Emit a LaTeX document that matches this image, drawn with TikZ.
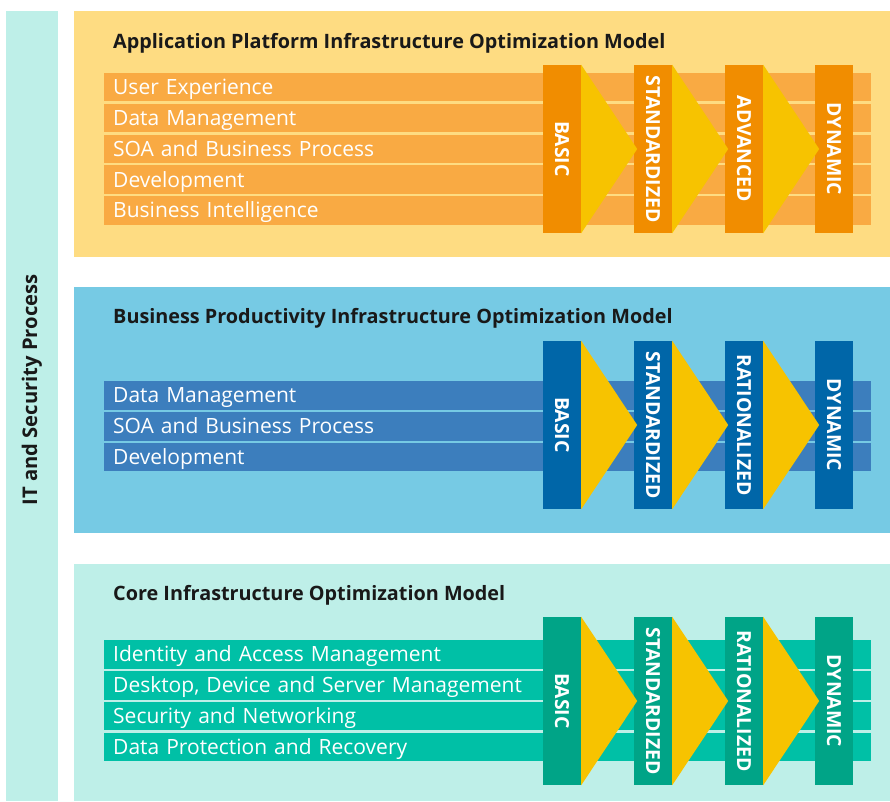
\documentclass[tikz,border=0pt]{standalone}
\usepackage{fontspec}
\setmainfont{Open Sans}
\usepackage{xcolor}

\definecolor{sidebg}{HTML}{BEEFE8}
\definecolor{appbg}{HTML}{FEDC82}
\definecolor{approw}{HTML}{F9AA43}
\definecolor{appstage}{HTML}{F18D00}
\definecolor{prodbg}{HTML}{76CAE4}
\definecolor{prodrow}{HTML}{3C7EBD}
\definecolor{prodstage}{HTML}{0066A8}
\definecolor{corebg}{HTML}{BEEFE8}
\definecolor{corerow}{HTML}{00C0A6}
\definecolor{corestage}{HTML}{00A487}
\definecolor{arrowfill}{HTML}{F7C300}

\begin{document}
\begin{tikzpicture}[x=1pt,y=-1pt,
  titletext/.style={anchor=base west,inner sep=0pt,text=black!90,
    font=\fontsize{19.8}{23}\selectfont\bfseries},
  rowbox/.style={anchor=north west,minimum height=28.5pt,inner xsep=9pt,inner ysep=0pt,
    text width=749pt,align=left,text=white,text height=15pt,text depth=0pt,
    font=\fontsize{21}{25}\selectfont},
  stagebox/.style={rotate=-90,minimum width=168pt,minimum height=38pt,inner sep=0pt,
    text=white,text height=13.8pt,text depth=0pt,font=\fontsize{19.4}{22}\selectfont\bfseries},
  stagearrow/.style={fill=arrowfill}]
  % page and panels
  \fill[white] (0,0) rectangle (890,801);
  \fill[sidebg] (6,11) rectangle (58,801);
  \node (side) at (32,390) [rotate=90,inner sep=0pt,text=black!90,
    font=\fontsize{20.2}{23}\selectfont\bfseries] {IT and Security Process};

  % application platform
  \fill[appbg] (74,11) rectangle (890,257);
  \node (apptitle) at (113,48) [titletext] {Application Platform Infrastructure Optimization Model};
  \node (ux) at (104,72.7) [rowbox,fill=approw] {User Experience};
  \node (dm) at (104,103.5) [rowbox,fill=approw] {Data Management};
  \node (soa) at (104,134.3) [rowbox,fill=approw] {SOA and Business Process};
  \node (dev) at (104,165.1) [rowbox,fill=approw] {Development};
  \node (bi) at (104,195.9) [rowbox,fill=approw] {Business Intelligence};
  \node (ab) at (562,149) [stagebox,fill=appstage] {BASIC};
  \node (as) at (653,149) [stagebox,fill=appstage] {STANDARDIZED};
  \node (aa) at (744,149) [stagebox,fill=appstage] {ADVANCED};
  \node (ad) at (834,149) [stagebox,fill=appstage] {DYNAMIC};
  \fill[stagearrow] (ab.north west) -- ([xshift=56pt]ab.north) -- (ab.north east) -- cycle;
  \fill[stagearrow] (as.north west) -- ([xshift=56pt]as.north) -- (as.north east) -- cycle;
  \fill[stagearrow] (aa.north west) -- ([xshift=56pt]aa.north) -- (aa.north east) -- cycle;

  % business productivity
  \fill[prodbg] (74,287) rectangle (890,533);
  \node (prodtitle) at (113,323) [titletext] {Business Productivity Infrastructure Optimization Model};
  \node (pdm) at (104,381) [rowbox,fill=prodrow] {Data Management};
  \node (psoa) at (104,411.8) [rowbox,fill=prodrow] {SOA and Business Process};
  \node (pdev) at (104,442.6) [rowbox,fill=prodrow] {Development};
  \node (pb) at (562,425) [stagebox,fill=prodstage] {BASIC};
  \node (ps) at (653,425) [stagebox,fill=prodstage] {STANDARDIZED};
  \node (pr) at (744,425) [stagebox,fill=prodstage] {RATIONALIZED};
  \node (pd) at (834,425) [stagebox,fill=prodstage] {DYNAMIC};
  \fill[stagearrow] (pb.north west) -- ([xshift=56pt]pb.north) -- (pb.north east) -- cycle;
  \fill[stagearrow] (ps.north west) -- ([xshift=56pt]ps.north) -- (ps.north east) -- cycle;
  \fill[stagearrow] (pr.north west) -- ([xshift=56pt]pr.north) -- (pr.north east) -- cycle;

  % core infrastructure
  \fill[corebg] (74,564) rectangle (890,801);
  \node (coretitle) at (113,600.5) [titletext] {Core Infrastructure Optimization Model};
  \node (iam) at (104,640) [rowbox,fill=corerow] {Identity and Access Management};
  \node (dds) at (104,670.8) [rowbox,fill=corerow] {Desktop, Device and Server Management};
  \node (sn) at (104,701.6) [rowbox,fill=corerow] {Security and Networking};
  \node (dpr) at (104,732.4) [rowbox,fill=corerow] {Data Protection and Recovery};
  \node (cb) at (562,701) [stagebox,fill=corestage] {BASIC};
  \node (cs) at (653,701) [stagebox,fill=corestage] {STANDARDIZED};
  \node (cr) at (744,701) [stagebox,fill=corestage] {RATIONALIZED};
  \node (cd) at (834,701) [stagebox,fill=corestage] {DYNAMIC};
  \fill[stagearrow] (cb.north west) -- ([xshift=56pt]cb.north) -- (cb.north east) -- cycle;
  \fill[stagearrow] (cs.north west) -- ([xshift=56pt]cs.north) -- (cs.north east) -- cycle;
  \fill[stagearrow] (cr.north west) -- ([xshift=56pt]cr.north) -- (cr.north east) -- cycle;
\end{tikzpicture}
\end{document}
